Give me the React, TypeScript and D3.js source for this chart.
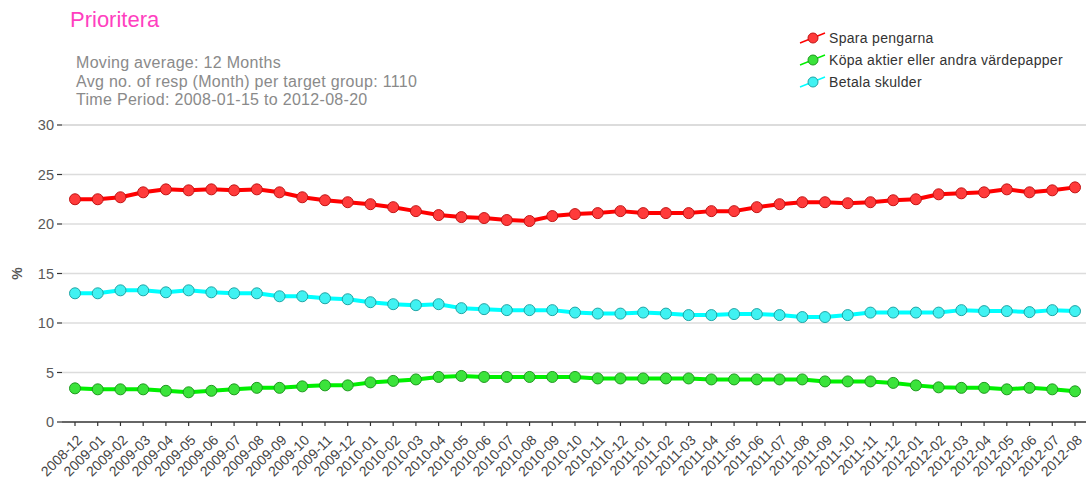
import * as d3 from "d3";

// months on the x axis (45 points, 12-month moving average)
const months = [
  "2008-12",
  "2009-01", "2009-02", "2009-03", "2009-04", "2009-05", "2009-06",
  "2009-07", "2009-08", "2009-09", "2009-10", "2009-11", "2009-12",
  "2010-01", "2010-02", "2010-03", "2010-04", "2010-05", "2010-06",
  "2010-07", "2010-08", "2010-09", "2010-10", "2010-11", "2010-12",
  "2011-01", "2011-02", "2011-03", "2011-04", "2011-05", "2011-06",
  "2011-07", "2011-08", "2011-09", "2011-10", "2011-11", "2011-12",
  "2012-01", "2012-02", "2012-03", "2012-04", "2012-05", "2012-06",
  "2012-07", "2012-08",
];

const sparaPengarna = [
  22.5, 22.5, 22.7, 23.2, 23.5, 23.4, 23.5, 23.4, 23.5, 23.2, 22.7, 22.4,
  22.2, 22.0, 21.7, 21.3, 20.9, 20.7, 20.6, 20.4, 20.3, 20.8, 21.0, 21.1,
  21.3, 21.1, 21.1, 21.1, 21.3, 21.3, 21.7, 22.0, 22.2, 22.2, 22.1, 22.2,
  22.4, 22.5, 23.0, 23.1, 23.2, 23.5, 23.2, 23.4, 23.7,
];

const kopaAktier = [
  3.4, 3.3, 3.3, 3.3, 3.15, 3.0, 3.15, 3.3, 3.45, 3.45, 3.6, 3.7,
  3.7, 4.0, 4.15, 4.3, 4.55, 4.65, 4.55, 4.55, 4.55, 4.55, 4.55, 4.4,
  4.4, 4.4, 4.4, 4.4, 4.3, 4.3, 4.3, 4.3, 4.3, 4.1, 4.1, 4.1,
  3.95, 3.7, 3.5, 3.45, 3.45, 3.3, 3.45, 3.3, 3.1,
];

const betalaSkulder = [
  13.0, 13.0, 13.3, 13.3, 13.1, 13.3, 13.1, 13.0, 13.0, 12.7, 12.7, 12.5,
  12.4, 12.1, 11.9, 11.8, 11.9, 11.5, 11.4, 11.3, 11.3, 11.3, 11.05, 10.95,
  10.95, 11.05, 10.95, 10.8, 10.8, 10.9, 10.9, 10.8, 10.6, 10.6, 10.8, 11.05,
  11.05, 11.05, 11.05, 11.3, 11.2, 11.2, 11.1, 11.3, 11.2,
];

const yTicks = [0, 5, 10, 15, 20, 25, 30];

const subtitleLines = [
  "Moving average: 12 Months",
  "Avg no. of resp (Month) per target group: 1110",
  "Time Period: 2008-01-15 to 2012-08-20",
];

const series = [
  { name: "Spara pengarna", values: sparaPengarna, line: "#ff0000", fill: "#ff3b3b", stroke: "#c21414" },
  { name: "Köpa aktier eller andra värdepapper", values: kopaAktier, line: "#00f000", fill: "#3be33b", stroke: "#1d9a1d" },
  { name: "Betala skulder", values: betalaSkulder, line: "#00ffff", fill: "#40f2f2", stroke: "#1fa5a5" },
];

const W = 1086;
const H = 480;
const FONT = "'Liberation Sans', Arial, Helvetica, sans-serif";

export default function App() {
  const axisLeft = 62;
  const x = d3.scalePoint<string>().domain(months).range([75, 1075]);
  const y = d3.scaleLinear().domain([0, 30]).range([422, 125]);

  const line = d3
    .line<number>()
    .x((_, i) => x(months[i])!)
    .y((d) => y(d));

  return (
    <svg
      width={W}
      height={H}
      style={{ position: "absolute", left: 0, top: 0, background: "#fff" }}
      fontFamily={FONT}
    >
      {/* title + notes */}
      <text x={70} y={27} fontSize={22} fill="#ff3fc0">
        Prioritera
      </text>
      {subtitleLines.map((t, i) => (
        <text key={t} x={76} y={68 + i * 18.5} fontSize={16} letterSpacing={0.3} fill="#8a8a8a">
          {t}
        </text>
      ))}

      {/* grid + y axis */}
      {yTicks.map((t) => (
        <g key={t}>
          {t > 0 && (
            <line x1={axisLeft} x2={W} y1={y(t)} y2={y(t)} stroke="#dcdcdc" strokeWidth={t === 30 ? 2 : 1.3} />
          )}
          <line x1={axisLeft - 5} x2={axisLeft} y1={y(t)} y2={y(t)} stroke="#333" strokeWidth={1.2} />
          <text x={axisLeft - 8} y={y(t)} dy="0.35em" textAnchor="end" fontSize={14.5} fill="#595959">
            {t}
          </text>
        </g>
      ))}
      <text
        transform={`translate(22,${y(15)}) rotate(-90)`}
        textAnchor="middle"
        fontSize={14}
        fontWeight="bold"
        fill="#555"
      >
        %
      </text>

      {/* x axis */}
      <line x1={axisLeft} x2={W} y1={y(0)} y2={y(0)} stroke="#333" strokeWidth={1.5} />
      {months.map((m) => (
        <g key={m} transform={`translate(${x(m)},${y(0)})`}>
          <line y1={0} y2={4} stroke="#333" strokeWidth={1.2} />
          <text
            transform="translate(8,19) rotate(-45)"
            textAnchor="end"
            fontSize={14}
            fill="#444"
          >
            {m}
          </text>
        </g>
      ))}

      {/* series */}
      {series.map((s) => (
        <g key={s.name}>
          <path d={line(s.values)!} fill="none" stroke={s.line} strokeWidth={4} strokeLinejoin="round" />
          {s.values.map((v, i) => (
            <circle key={i} cx={x(months[i])} cy={y(v)} r={5.5} fill={s.fill} stroke={s.stroke} strokeWidth={1} />
          ))}
        </g>
      ))}

      {/* legend */}
      {series.map((s, i) => {
        const cy = 38 + i * 22;
        return (
          <g key={s.name} transform={`translate(813,${cy})`}>
            <line x1={-13} y1={5} x2={12} y2={-5} stroke={s.line} strokeWidth={1.5} />
            <circle r={5} fill={s.fill} stroke={s.stroke} strokeWidth={1} />
            <text x={16} dy="0.35em" fontSize={14} letterSpacing={0.3} fill="#333">
              {s.name}
            </text>
          </g>
        );
      })}
    </svg>
  );
}
